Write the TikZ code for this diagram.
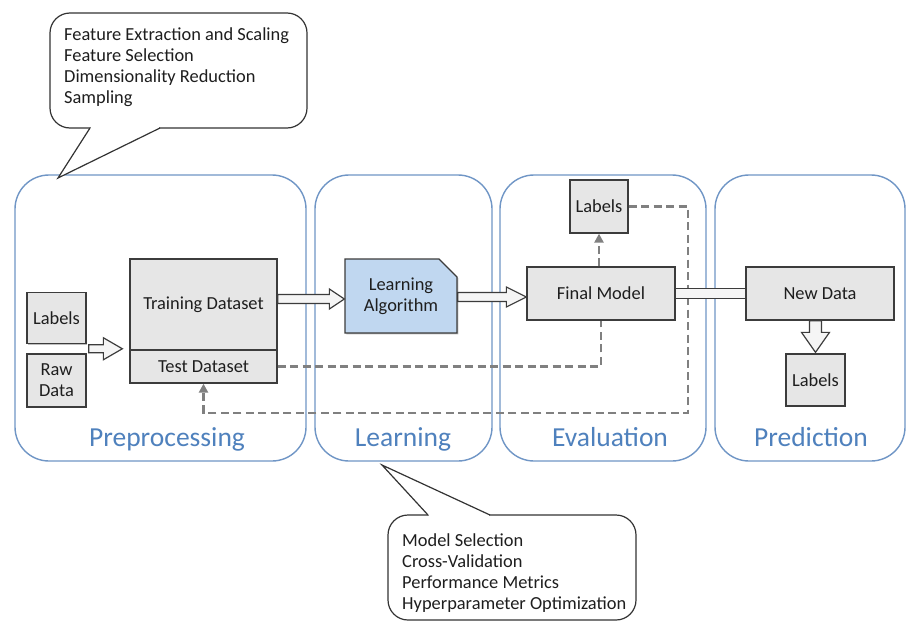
\documentclass[tikz,border=0pt]{standalone}
\usepackage{fontspec}
\setmainfont{Carlito}
\usetikzlibrary{calc,shapes.misc,arrows.meta,shadows}
\definecolor{panelblue}{RGB}{112,150,198}
\definecolor{labblue}{RGB}{79,129,189}
\definecolor{boxfill}{RGB}{230,230,230}
\definecolor{boxline}{RGB}{60,60,60}
\definecolor{algofill}{RGB}{192,215,240}
\definecolor{dashgray}{RGB}{128,128,128}
\definecolor{txt}{RGB}{30,30,30}
\newcommand{\harrowR}[5]{\draw[hollow] ($#1+(0,-#3)$) -- ($#2+(-#5,-#3)$) -- ($#2+(-#5,-#4)$) -- #2 -- ($#2+(-#5,#4)$) -- ($#2+(-#5,#3)$) -- ($#1+(0,#3)$) -- cycle;}
\newcommand{\harrowD}[5]{\draw[hollow] ($#1+(-#3,0)$) -- ($#2+(-#3,-#5)$) -- ($#2+(-#4,-#5)$) -- #2 -- ($#2+(#4,-#5)$) -- ($#2+(#3,-#5)$) -- ($#1+(#3,0)$) -- cycle;}
\begin{document}
\begin{tikzpicture}[x=1pt,y=-1pt,
  panel/.style={draw=panelblue,line width=1.4pt,rounded corners=34pt},
  plabel/.style={text=labblue,font=\fontsize{27.5}{30}\selectfont,anchor=base},
  box/.style={draw=boxline,fill=boxfill,line width=1.3pt,text=txt,
    font=\fontsize{18.4}{21}\selectfont,align=center,inner sep=2pt,
    drop shadow={shadow xshift=1.3pt,shadow yshift=-1.3pt,fill=black,opacity=0.25}},
  hollow/.style={draw=boxline,fill=gray!8,line width=1.2pt,line join=miter},
  dsh/.style={draw=dashgray,line width=2.4pt,dash pattern=on 8pt off 4.5pt},
  dtip/.style={-{Triangle[length=9pt,width=9pt]}},
  callout/.style={draw=black!80,line width=1.2pt,fill=white},
  calltext/.style={text=txt,font=\fontsize{18.4}{21}\selectfont,align=left,inner sep=0pt,anchor=north west}
]
\useasboundingbox[fill=white] (0,0) rectangle (909,624);

% panels
\draw[panel] (15,175) rectangle (306,461);
\draw[panel] (315,175) rectangle (492,461);
\draw[panel] (500,175) rectangle (706,461);
\draw[panel] (715,175) rectangle (905,461);
\node[plabel] (pprep) at (167,446) {Preprocessing};
\node[plabel] (plearn) at (403,446) {Learning};
\node[plabel] (peval) at (610,446) {Evaluation};
\node[plabel] (ppred) at (811,446) {Prediction};

% nodes
\node[box,minimum width=59,minimum height=51] (lab1) at (56.5,318) {Labels};
\node[box,minimum width=59,minimum height=53] (raw) at (56.5,380.5) {Raw\\Data};
\node[box,minimum width=147,minimum height=91] (train) at (203.5,304.5) {Training Dataset};
\node[box,minimum width=147,minimum height=33] (test) at (203.5,366.5) {Test Dataset};
\node[box,fill=algofill,chamfered rectangle,chamfered rectangle corners=north east,
  chamfered rectangle xsep=9pt,chamfered rectangle ysep=9pt,
  minimum width=112,minimum height=74] (algo) at (401,296) {Learning\\Algorithm};
\node[box,minimum width=148,minimum height=53] (final) at (601,293.5) {Final Model};
\node[box,minimum width=58,minimum height=53] (lab2) at (599,206.5) {Labels};
\node[box,minimum width=148,minimum height=53] (newd) at (820,293.5) {New Data};
\node[box,minimum width=59,minimum height=52] (lab3) at (815.5,380) {Labels};

% dashed connectors
\coordinate (c1) at (688,413);
\draw[dsh] (test.east) -| (final.south);
\draw[dsh,dtip] (lab2.south |- final.north) -- (lab2.south);
\draw[dsh,dtip] (lab2.east) -| (c1) -| (test.south);

% hollow arrows
\coordinate (a1s) at ($(lab1.south east)!0.5!(raw.north east)+(2,0)$);
\coordinate (a1e) at ($(a1s -| train.west)+(-7,0)$);
\harrowR{(a1s)}{(a1e)}{4}{11}{19}
\coordinate (a2s) at ($(train.east)+(0,-5.5)$);
\coordinate (a2e) at (a2s -| algo.west);
\harrowR{(a2s)}{(a2e)}{4.5}{10}{15}
\coordinate (a3s) at ($(algo.east)+(0,1)$);
\coordinate (a3e) at (a3s -| final.west);
\harrowR{(a3s)}{(a3e)}{4.5}{10}{20}
\draw[hollow] ($(final.east)+(0,-5)$) rectangle ($(newd.west)+(0,5)$);
\coordinate (a4s) at (lab3.north |- newd.south);
\coordinate (a4e) at ($(lab3.north)+(0,-1)$);
\harrowD{(a4s)}{(a4e)}{6}{14}{20}

% callouts
\draw[callout,rounded corners=20pt] (50,13) rectangle (307,128);
\draw[white,line width=2.2pt] (91,128) -- (159,128);
\draw[callout,line join=miter] (90,128) -- (58,178) -- (160,128);
\node[calltext] (ctop) at (64,28) {Feature Extraction and Scaling\\Feature Selection\\Dimensionality Reduction\\Sampling};

\draw[callout,rounded corners=20pt] (388,515) rectangle (636,620);
\draw[white,line width=2.2pt] (429,515) -- (489,515);
\draw[callout,line join=miter] (428,515) -- (382,465) -- (490,515);
\node[calltext] (cbot) at (402,534) {Model Selection\\Cross-Validation\\Performance Metrics\\Hyperparameter Optimization};
\end{tikzpicture}
\end{document}
